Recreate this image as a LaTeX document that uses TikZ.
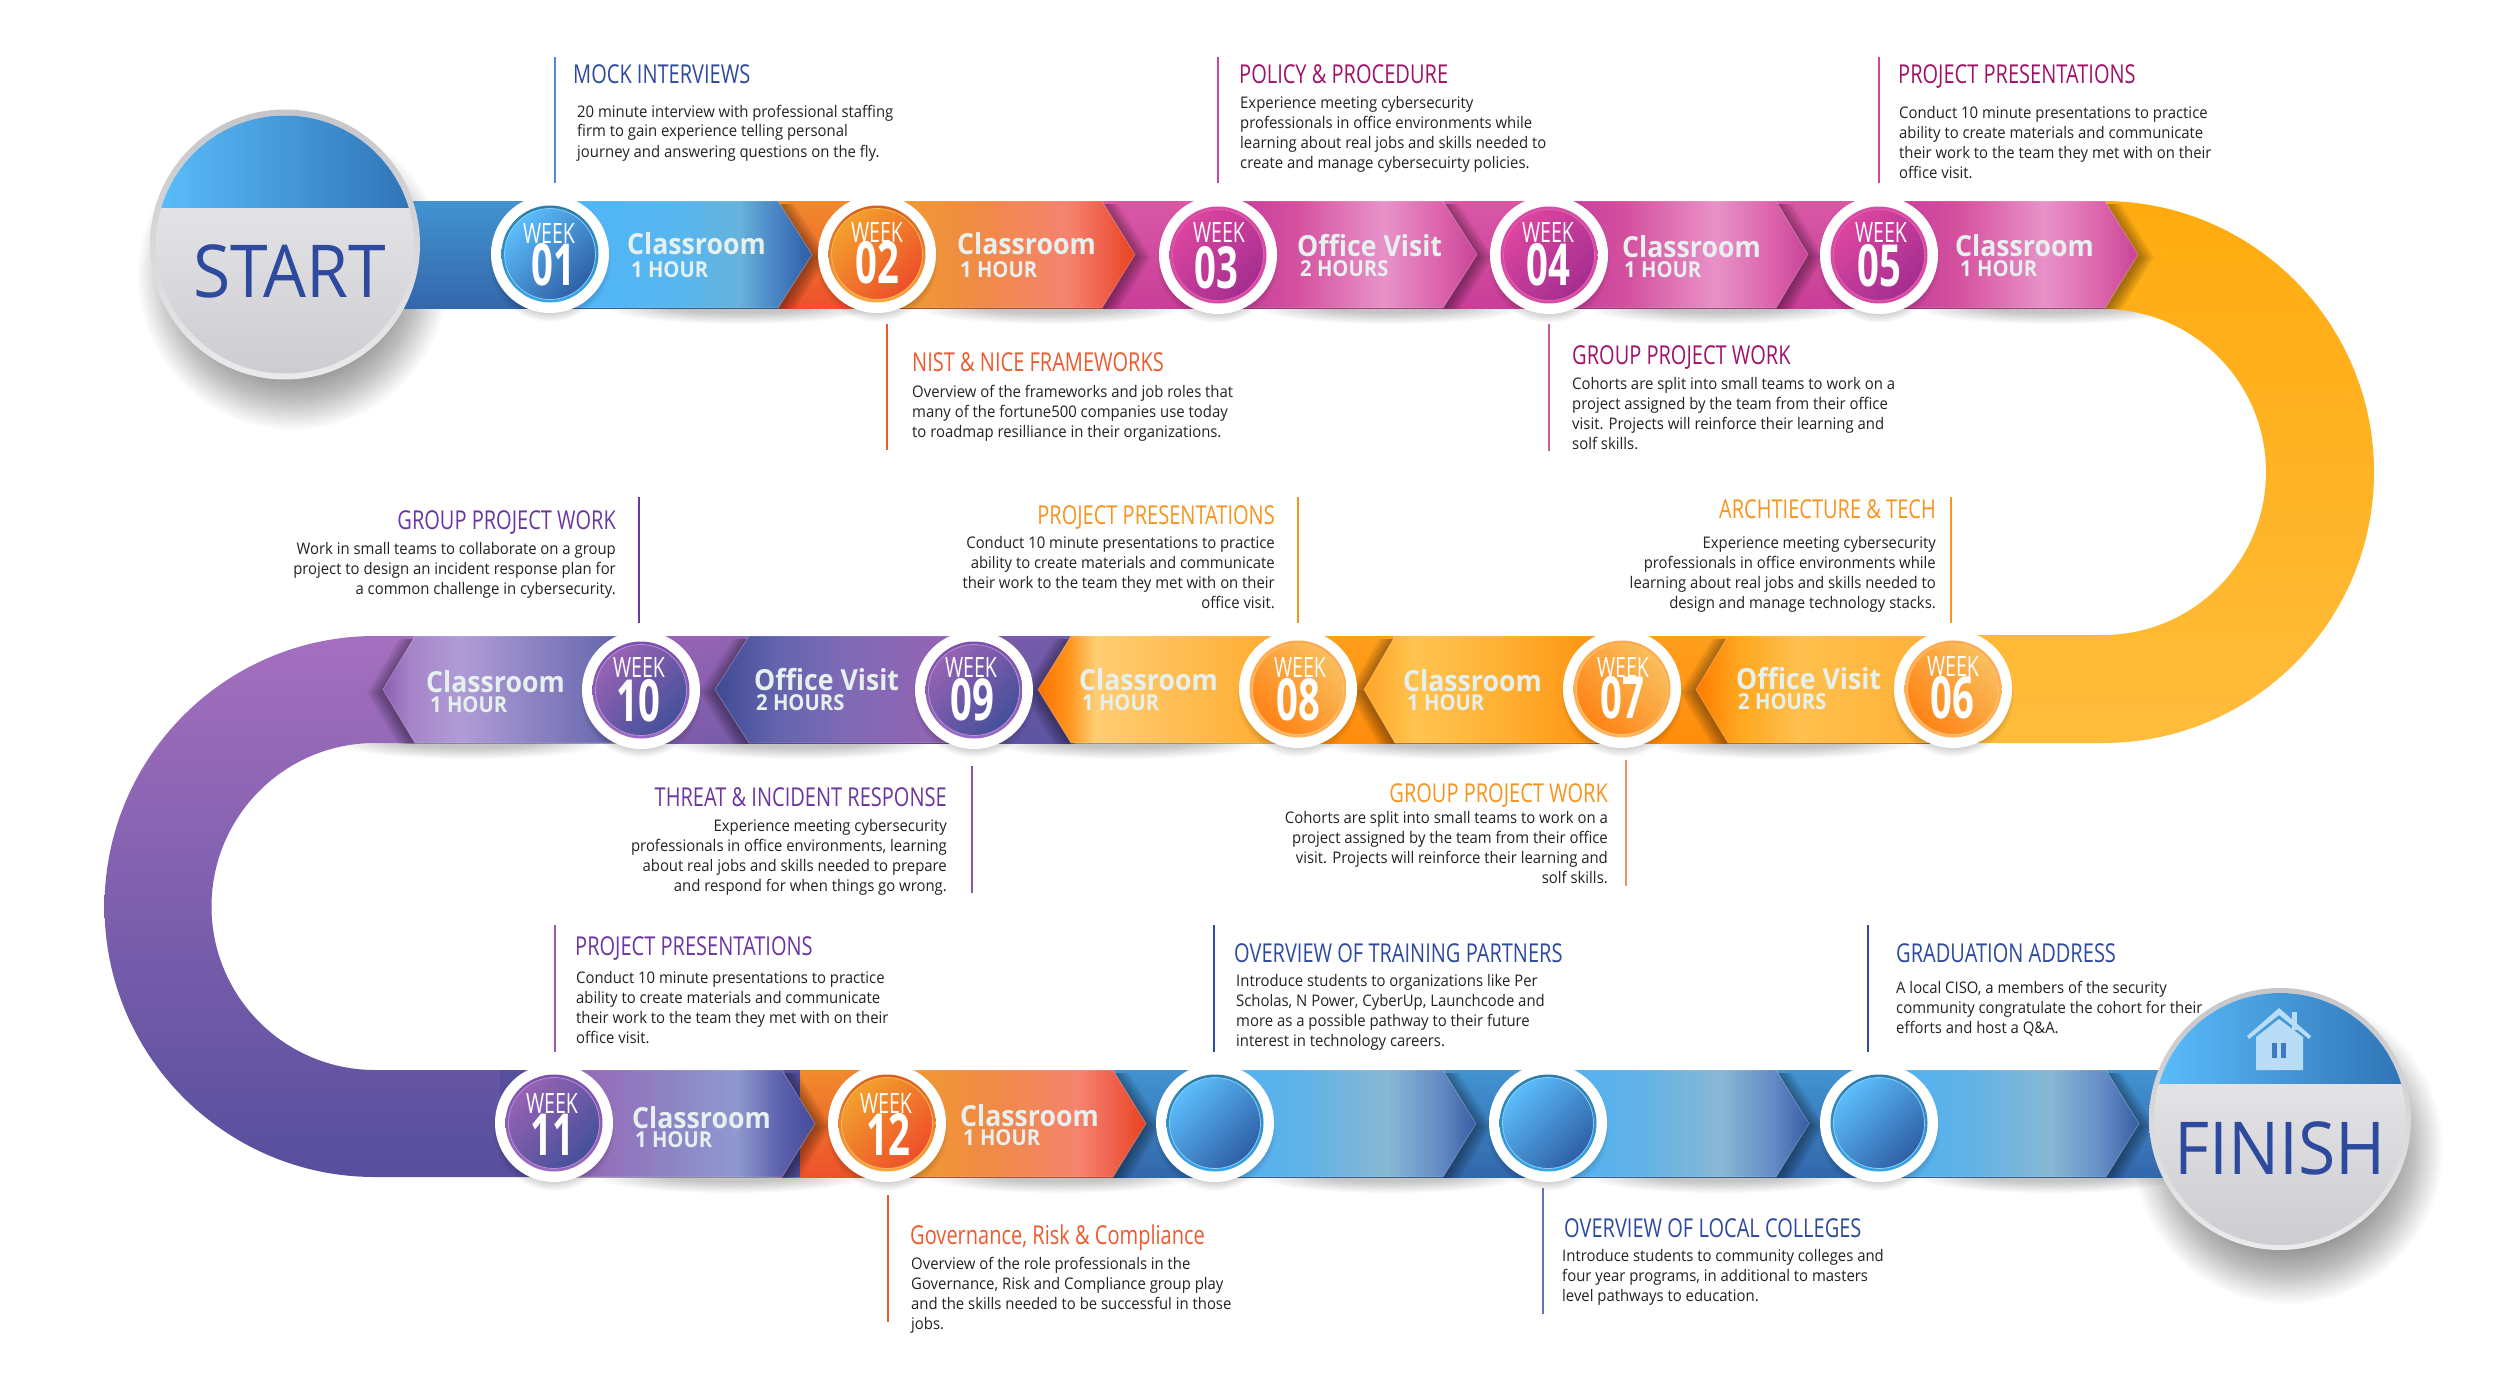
\documentclass[tikz,border=0pt]{standalone}
\usepackage{fontspec}
\setmainfont{Open Sans}
\newfontfamily\titlef[FakeStretch=0.77]{Open Sans}
\newfontfamily\bodyf[FakeStretch=0.93]{Open Sans}
\newfontfamily\labelf[FakeStretch=0.92]{Open Sans}
\newfontfamily\weekf[FakeStretch=0.70]{Open Sans}
\newfontfamily\numf[FakeStretch=0.66]{Open Sans}
\newfontfamily\bigf[FakeStretch=0.93]{Open Sans}
\definecolor{cblue}{HTML}{2E4A9E}\definecolor{corange}{HTML}{EE5A2D}\definecolor{cmag}{HTML}{A0126A}
\definecolor{camber}{HTML}{F7941D}\definecolor{cpurple}{HTML}{6B36A0}\definecolor{lbl}{HTML}{E6F0EE}
\definecolor{txt}{HTML}{222222}
% five-stop horizontal shading: name, p2,p3,p4, five hex colours
\newcommand\mkshade[8]{%
  \definecolor{#1a}{HTML}{#4}\definecolor{#1b}{HTML}{#5}\definecolor{#1c}{HTML}{#6}\definecolor{#1d}{HTML}{#7}\definecolor{#1e}{HTML}{#8}%
  \pgfdeclarehorizontalshading{#1}{100bp}{color(0bp)=(#1a);color(25bp)=(#1a);color(#2)=(#1b);color(#3)=(#1c);color(68bp)=(#1d);color(75bp)=(#1e);color(100bp)=(#1e)}}
\mkshade{shBlue}{50bp}{61bp}{4DB5FB}{58B6EE}{66B3DB}{4A85C4}{2D5CA8}{}
\mkshade{shBlank}{42bp}{58bp}{4EB2F5}{60B2E6}{88B8D4}{648CC4}{375CA5}{}
\mkshade{shOrange}{45bp}{62bp}{EF9D2A}{F08A46}{F5836F}{F06550}{E8431F}{}
\mkshade{shMag}{40bp}{57bp}{C23A9B}{D4509E}{E892C8}{DB63AB}{C84399}{}
\mkshade{shSix}{33bp}{45bp}{FF7A00}{FFA61E}{FFC04D}{FFB238}{FFAE2E}{}
\mkshade{shSeven}{35bp}{52bp}{FFA526}{FFC450}{FFB032}{FF9614}{FF8A0A}{}
\mkshade{shEight}{31bp}{36bp}{FF7000}{FF961E}{FFCD73}{FFAE34}{FFA524}{}
\mkshade{shNine}{37bp}{50bp}{3E4A92}{6464AE}{7F6AB6}{9364B3}{9863B3}{}
\mkshade{shTen}{30bp}{40bp}{8C5DB0}{A583C8}{B09CD6}{6A6AB0}{3E4A95}{}
\mkshade{shEleven}{47bp}{60bp}{9A60B2}{8C84C4}{9098D0}{5C62AE}{454B99}{}
\definecolor{rBlueT}{HTML}{2A7DA8}\definecolor{rBlueB}{HTML}{37A6E8}\definecolor{dBlueA}{HTML}{5BBDFB}\definecolor{dBlueB}{HTML}{2F5FA6}\definecolor{tBlue}{HTML}{8BCBF5}
\definecolor{rOrT}{HTML}{D8601C}\definecolor{rOrB}{HTML}{FBA640}\definecolor{dOrA}{HTML}{F2A02C}\definecolor{dOrB}{HTML}{EE4E2A}\definecolor{tOr}{HTML}{F8B85A}
\definecolor{rMagT}{HTML}{D84BA4}\definecolor{rMagB}{HTML}{D84BA4}\definecolor{dMagA}{HTML}{DC459F}\definecolor{dMagB}{HTML}{A42E90}\definecolor{tMag}{HTML}{E060AE}
\definecolor{rAmT}{HTML}{FFA94D}\definecolor{rAmB}{HTML}{FDB45A}\definecolor{dAmA}{HTML}{F9BE5C}\definecolor{dAmB}{HTML}{FF8316}\definecolor{tAm}{HTML}{FFC070}
\definecolor{rPuT}{HTML}{7B4FAE}\definecolor{rPuB}{HTML}{9B6BC0}\definecolor{dPuA}{HTML}{9762B4}\definecolor{dPuB}{HTML}{44509A}\definecolor{tPu}{HTML}{B48FD2}
\definecolor{araA}{HTML}{FFAB0E}\definecolor{araB}{HTML}{FFBC3C}
\definecolor{ruleA}{HTML}{4E8CC8}\definecolor{ruleC}{HTML}{D6439A}\definecolor{ruleD}{HTML}{C85A9E}
\definecolor{ruleG}{HTML}{F2906A}\definecolor{ruleI}{HTML}{8058A8}\definecolor{ruleK}{HTML}{9A58AE}\definecolor{ruleN}{HTML}{6870B8}
\definecolor{gryA}{HTML}{C6C6CA}\definecolor{gryB}{HTML}{EAEAEC}\definecolor{fcA}{HTML}{EFEFF1}\definecolor{fcB}{HTML}{CDCDD1}
\definecolor{capB}{HTML}{2F73B5}
\tikzset{
  disc/.style={circle,inner sep=0pt,minimum size=#1,draw=none},
  rulel/.style={line width=2pt},
  weektxt/.style={anchor=base,inner sep=0pt,text=white},
  lab/.style={anchor=base west,inner sep=0pt,text=lbl},
  ttl/.style={anchor=base west,inner sep=0pt},
  ttr/.style={anchor=base east,inner sep=0pt},
}
\newcommand\chev[5]{%
  \pgfmathsetmacro\sg{(#3>#2)?1:-1}%
  \begin{scope}
    \clip (0,#4-53.5) rectangle (2500,#4+53.5);
    \foreach \d in {2,4,...,16}{
      \fill[black,opacity=.05,xshift={\sg*\d*1pt},yshift=-3pt] (#1,#4-53.5)--(#2,#4-53.5)--(#3,#4)--(#2,#4+53.5)--(#1,#4+53.5)--cycle;}
  \end{scope}
  \shade[shading=#5,draw=white,draw opacity=.25,line width=.8pt] (#1,#4-53.5)--(#2,#4-53.5)--(#3,#4)--(#2,#4+53.5)--(#1,#4+53.5)--cycle;}
\newcommand\undershadow[2]{%
  \foreach \i in {1,...,10}{\fill[black,opacity=.022] (#1,#2) ellipse[x radius={(60+\i*7)*1pt},y radius={(4+\i*1.2)*1pt}];}}
\def\wang{45}
\newcommand\wdisc[8]{%
  \foreach \i in {0,...,9}{\fill[black,opacity=.025] (#2,#3+7) circle[radius={(50+\i*1.2)*1pt}];}
  \node[disc=118pt,fill=white] (#1w) at (#2,#3) {};
  \node[disc=97pt,top color=#4,bottom color=#5] (#1r) at (#2,#3) {};
  \node[disc=91pt,top color=#6,bottom color=#7,shading angle=\wang,draw=#8,line width=.8pt] (#1) at (#2,#3) {};}
\newcommand\wtxt[6]{%
  \node[weektxt,font=\weekf\fontsize{28}{28}\selectfont] (#1a) at (#2,#4) {WEEK};
  \node[weektxt,font=\numf\bfseries\fontsize{58}{58}\selectfont] (#1b) at (#3,#5) {#6};}
\newcommand\lbl[7]{%
  \node[lab,font=\labelf\bfseries\fontsize{29}{29}\selectfont] (#1a) at (#2,#3) {#4};
  \node[lab,font=\labelf\bfseries\fontsize{22}{22}\selectfont] (#1b) at (#5,#6) {#7};}
\newcommand\ruleline[5]{\coordinate (#1a) at (#3,#4);\coordinate (#1b) at (#3,#5);\draw[rulel,#2] (#1a)--(#1b);}
\newcommand\titleL[5]{\node[ttl,text=#2,font=\titlef\fontsize{26}{26}\selectfont] (#1) at (#3,#4) {#5};}
\newcommand\titleR[5]{\node[ttr,text=#2,font=\titlef\fontsize{26}{26}\selectfont] (#1) at (#3,#4) {#5};}
\newcommand\bodyL[4]{\node[ttl,text=txt] (#1) at (#2,#3) {\bodyf\fontsize{16}{20}\selectfont\begin{tabular}[t]{@{}l@{}}#4\end{tabular}};}
\newcommand\bodyR[4]{\node[ttr,text=txt] (#1) at (#2,#3) {\bodyf\fontsize{16}{20}\selectfont\begin{tabular}[t]{@{}r@{}}#4\end{tabular}};}
\newcommand\bigc[2]{%
  \foreach \i in {0,...,29}{\fill[black,opacity=.016] (#1+8,#2+30) circle[radius={(100+\i*1.9)*1pt}];}}
\newcommand\bigd[6]{%
  \node[disc=#4*2pt,top color=gryA,bottom color=gryB] (#1o) at (#2,#3) {};
  \node[disc=#5*2pt,top color=fcA,bottom color=fcB] (#1) at (#2,#3) {};
  \begin{scope}
    \clip (#2,#3) circle[radius=#5pt];
    \shade[left color=dBlueA,right color=capB] (#2-#5,#3-#5) rectangle (#2+#5,#6);
  \end{scope}}
\begin{document}
\begin{tikzpicture}[x=1pt,y=-1pt]
\useasboundingbox (0,0) rectangle (2500,1389);
\fill[white] (0,0) rectangle (2500,1389);
\bigc{285}{245}
\bigc{2280}{1119}
\undershadow{740}{308}\undershadow{1050}{308}\undershadow{1390}{308}\undershadow{1720}{308}\undershadow{2050}{308}
\undershadow{1780}{743}\undershadow{1450}{743}\undershadow{1125}{743}\undershadow{800}{743}\undershadow{470}{743}
\undershadow{730}{1177}\undershadow{1060}{1177}\undershadow{1390}{1177}\undershadow{1720}{1177}\undershadow{2050}{1177}
% bands
\shade[top color=araA,bottom color=araB] (2103,201) arc[start angle=90,end angle=-90,radius=271pt] -- (1953,743) -- (1953,635) -- (2103,635) arc[start angle=-90,end angle=90,radius=163pt] -- cycle;
\definecolor{pua}{HTML}{A46FBE}\definecolor{pub}{HTML}{564F9D}
\shade[top color=pua,bottom color=pub] (641,636) -- (375,636) arc[start angle=90,end angle=270,radius=270.5pt] -- (554,1177) -- (554,1070) -- (375,1070) arc[start angle=270,end angle=90,radius=163.5pt] -- (641,743) -- cycle;
\definecolor{ba}{HTML}{4293D0}\definecolor{bb}{HTML}{3367AB}
\definecolor{oa}{HTML}{F08A2C}\definecolor{ob}{HTML}{EE512B}
\definecolor{ma}{HTML}{D858A5}\definecolor{mb}{HTML}{C93E98}
\definecolor{ya}{HTML}{FF9F1C}\definecolor{yb}{HTML}{FF8C0C}
\definecolor{ia}{HTML}{9463B3}\definecolor{ib}{HTML}{5F55A3}
\shade[top color=ba,bottom color=bb] (400,201.5) rectangle (790,308.5);
\shade[top color=oa,bottom color=ob] (778,201.5) rectangle (1110,308.5);
\shade[top color=ma,bottom color=mb] (1102,201.5) rectangle (2105,308.5);
\shade[top color=ya,bottom color=yb] (1290,636) rectangle (1953,743);
\shade[top color=ia,bottom color=ib,shading angle=20] (641,636) rectangle (1075,743);
\shade[top color=oa,bottom color=ob] (782,1070) rectangle (1120,1177);
\shade[top color=ba,bottom color=bb] (1113,1070) rectangle (2170,1177);
\fill[pub] (500,1070) rectangle (800,1177);
% chevrons
\chev{550}{778}{812}{254.5}{shBlue}
\chev{877}{1102}{1135}{254.5}{shOrange}
\chev{1218}{1443}{1477}{254.5}{shMag}
\chev{1549}{1776}{1808}{254.5}{shMag}
\chev{1879}{2105}{2138}{254.5}{shMag}
\chev{1953}{1728}{1696}{689.5}{shSix}
\chev{1622}{1395}{1364}{689.5}{shSeven}
\chev{1298}{1071}{1038}{689.5}{shEight}
\chev{974}{749}{715}{689.5}{shNine}
\chev{641}{415}{383}{689.5}{shTen}
\chev{554}{782}{815}{1123.5}{shEleven}
\chev{887}{1113}{1146}{1123.5}{shOrange}
\chev{1215}{1443}{1476}{1123.5}{shBlank}
\chev{1548}{1776}{1809}{1123.5}{shBlank}
\chev{1879}{2106}{2139}{1123.5}{shBlank}
% discs
\wdisc{w1}{550}{254}{rBlueT}{rBlueB}{dBlueA}{dBlueB}{tBlue}
\wdisc{w2}{877}{254}{rOrT}{rOrB}{dOrA}{dOrB}{tOr}
\wdisc{w3}{1218}{255}{rMagT}{rMagB}{dMagA}{dMagB}{tMag}
\wdisc{w4}{1549}{255}{rMagT}{rMagB}{dMagA}{dMagB}{tMag}
\wdisc{w5}{1879}{255}{rMagT}{rMagB}{dMagA}{dMagB}{tMag}
\def\wang{-45}
\wdisc{w6}{1953}{689}{rAmT}{rAmB}{dAmA}{dAmB}{tAm}
\wdisc{w7}{1622}{689}{rAmT}{rAmB}{dAmA}{dAmB}{tAm}
\wdisc{w8}{1298}{689}{rAmT}{rAmB}{dAmA}{dAmB}{tAm}
\def\wang{45}
\wdisc{w9}{974}{690}{rPuT}{rPuB}{dPuA}{dPuB}{tPu}
\wdisc{w10}{641}{690}{rPuT}{rPuB}{dPuA}{dPuB}{tPu}
\wdisc{w11}{554}{1123}{rPuT}{rPuB}{dPuA}{dPuB}{tPu}
\wdisc{w12}{887}{1123}{rOrT}{rOrB}{dOrA}{dOrB}{tOr}
\wdisc{w13}{1215}{1123}{rBlueT}{rBlueB}{dBlueA}{dBlueB}{tBlue}
\wdisc{w14}{1548}{1123}{rBlueT}{rBlueB}{dBlueA}{dBlueB}{tBlue}
\wdisc{w15}{1879}{1123}{rBlueT}{rBlueB}{dBlueA}{dBlueB}{tBlue}
% week texts
\wtxt{wa}{549}{553}{243}{285}{01}
\wtxt{wb}{877}{877}{242}{283}{02}
\wtxt{wc}{1219}{1216}{242}{288}{03}
\wtxt{wd}{1548}{1548}{242}{285}{04}
\wtxt{we}{1881}{1879}{242}{286}{05}
\wtxt{wf}{1953}{1952}{676}{718}{06}
\wtxt{wg}{1623}{1622}{677}{718}{07}
\wtxt{wh}{1300}{1298}{677}{720}{08}
\wtxt{wi}{971}{972}{677}{720}{09}
\wtxt{wj}{639}{638}{677}{721}{10}
\wtxt{wk}{552}{552}{1113}{1155}{11}
\wtxt{wl}{886}{888}{1113}{1155}{12}
% chevron labels
\lbl{la}{627}{254}{Classroom}{631}{277}{1 HOUR}
\lbl{lb}{957}{254}{Classroom}{960}{277}{1 HOUR}
\lbl{lc}{1297}{256}{Office Visit}{1300}{276}{2 HOURS}
\lbl{ld}{1622}{257}{Classroom}{1624}{277}{1 HOUR}
\lbl{le}{1955}{256}{Classroom}{1960}{276}{1 HOUR}
\lbl{lf}{1736}{689}{Office Visit}{1738}{709}{2 HOURS}
\lbl{lg}{1403}{691}{Classroom}{1407}{710}{1 HOUR}
\lbl{lh}{1079}{690}{Classroom}{1082}{710}{1 HOUR}
\lbl{li}{754}{690}{Office Visit}{756}{710}{2 HOURS}
\lbl{lj}{426}{692}{Classroom}{430}{712}{1 HOUR}
\lbl{lk}{632}{1128}{Classroom}{635}{1147}{1 HOUR}
\lbl{ll}{960}{1126}{Classroom}{963}{1145}{1 HOUR}
% rules
\ruleline{ra}{ruleA}{555}{57}{183}
\ruleline{rb}{corange}{887}{324}{450}
\ruleline{rc}{ruleC}{1218}{57}{183}
\ruleline{rd}{ruleD}{1549}{324}{451}
\ruleline{re}{ruleC}{1879}{57}{183}
\ruleline{rf}{camber}{1951}{497}{623}
\ruleline{rg}{ruleG}{1626}{760}{886}
\ruleline{rh}{camber}{1298}{497}{623}
\ruleline{ri}{ruleI}{972}{766}{893}
\ruleline{rj}{cpurple}{639}{497}{623}
\ruleline{rk}{ruleK}{555}{925}{1052}
\ruleline{rl}{corange}{888}{1195}{1322}
\ruleline{rm}{cblue}{1214}{925}{1052}
\ruleline{rn}{ruleN}{1543}{1188}{1314}
\ruleline{ro}{cblue}{1868}{925}{1052}
% captions
\titleL{ta}{cblue}{573}{83}{MOCK INTERVIEWS}
\bodyL{ba1}{577}{117}{20 minute interview with professional staffing\\firm to gain experience telling personal\\journey and answering questions on the fly.}
\titleL{tb}{corange}{912}{371}{NIST \& NICE FRAMEWORKS}
\bodyL{bb1}{912}{397}{Overview of the frameworks and job roles that\\many of the fortune500 companies use today\\to roadmap resilliance in their organizations.}
\titleL{tc}{cmag}{1239}{83}{POLICY \& PROCEDURE}
\bodyL{bc1}{1240}{108}{Experience meeting cybersecurity\\professionals in office environments while\\learning about real jobs and skills needed to\\create and manage cybersecuirty policies.}
\titleL{td}{cmag}{1572}{364}{GROUP PROJECT WORK}
\bodyL{bd1}{1572}{389}{Cohorts are split into small teams to work on a\\project assigned by the team from their office\\visit. Projects will reinforce their learning and\\solf skills.}
\titleL{te}{cmag}{1898}{83}{PROJECT PRESENTATIONS}
\bodyL{be1}{1899}{118}{Conduct 10 minute presentations to practice\\ability to create materials and communicate\\their work to the team they met with on their\\office visit.}
\titleR{tf}{camber}{1936}{518}{ARCHTIECTURE \& TECH}
\bodyR{bf1}{1936}{548}{Experience meeting cybersecurity\\professionals in office environments while\\learning about real jobs and skills needed to\\design and manage technology stacks.}
\titleR{tg}{camber}{1608}{802}{GROUP PROJECT WORK}
\bodyR{bg1}{1608}{823}{Cohorts are split into small teams to work on a\\project assigned by the team from their office\\visit. Projects will reinforce their learning and\\solf skills.}
\titleR{th}{camber}{1275}{524}{PROJECT PRESENTATIONS}
\bodyR{bh1}{1275}{548}{Conduct 10 minute presentations to practice\\ability to create materials and communicate\\their work to the team they met with on their\\office visit.}
\titleR{ti}{cpurple}{947}{806}{THREAT \& INCIDENT RESPONSE}
\bodyR{bi1}{947}{831}{Experience meeting cybersecurity\\professionals in office environments, learning\\about real jobs and skills needed to prepare\\and respond for when things go wrong.}
\titleR{tj}{cpurple}{616}{529}{GROUP PROJECT WORK}
\bodyR{bj1}{616}{554}{Work in small teams to collaborate on a group\\project to design an incident response plan for\\a common challenge in cybersecurity.}
\titleL{tk}{cpurple}{575}{955}{PROJECT PRESENTATIONS}
\bodyL{bk1}{576}{983}{Conduct 10 minute presentations to practice\\ability to create materials and communicate\\their work to the team they met with on their\\office visit.}
\titleL{tl}{corange}{910}{1244}{Governance, Risk \& Compliance}
\bodyL{bl1}{911}{1269}{Overview of the role professionals in the\\Governance, Risk and Compliance group play\\and the skills needed to be successful in those\\jobs.}
\titleL{tm}{cblue}{1234}{962}{OVERVIEW OF TRAINING PARTNERS}
\bodyL{bm1}{1236}{986}{Introduce students to organizations like Per\\Scholas, N Power, CyberUp, Launchcode and\\more as a possible pathway to their future\\interest in technology careers.}
\titleL{tn}{cblue}{1564}{1237}{OVERVIEW OF LOCAL COLLEGES}
\bodyL{bn1}{1562}{1261}{Introduce students to community colleges and\\four year programs, in additional to masters\\level pathways to education.}
\titleL{to}{cblue}{1896}{962}{GRADUATION ADDRESS}
\bodyL{bo1}{1896}{993}{A local CISO, a members of the security\\community congratulate the cohort for their\\efforts and host a Q\&A.}
% start and finish
\bigd{st}{285}{244.5}{135}{129}{207}
\bigd{fi}{2280}{1119}{131}{126}{1083}
\node[anchor=base,inner sep=0pt,text=cblue,font=\bigf\fontsize{73}{73}\selectfont] (startt) at (290,297) {START};
\node[anchor=base,inner sep=0pt,text=cblue,font=\bigf\fontsize{73}{73}\selectfont] (finisht) at (2280,1174) {FINISH};
\definecolor{hs}{HTML}{B9DCF7}
\fill[hs] (2292,1012) rectangle (2297,1030);
\fill[hs] (2279,1008) -- (2311,1036) -- (2309,1039) -- (2279,1015) -- (2249,1039) -- (2247,1036) -- cycle;
\fill[hs] (2256,1037) -- (2279,1019) -- (2303,1037) -- (2303,1070) -- (2256,1070) -- cycle;
\fill[dBlueB!70!dBlueA] (2271.5,1043) rectangle (2276.5,1058);
\fill[dBlueB!70!dBlueA] (2281,1043) rectangle (2286,1058);
\end{tikzpicture}
\end{document}
